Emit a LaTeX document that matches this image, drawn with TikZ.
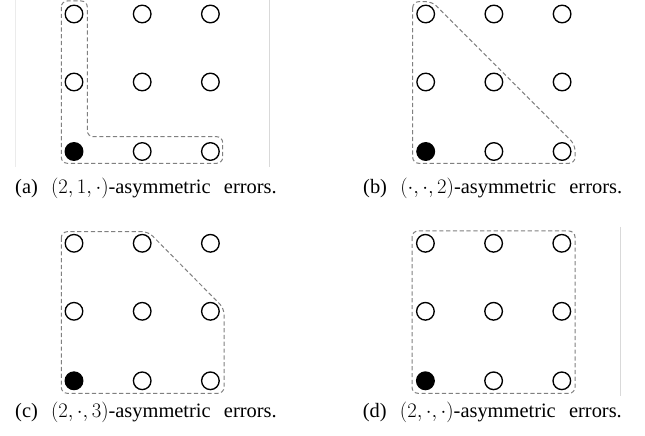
\documentclass[tikz,border=0pt]{standalone}
\usepackage{fontspec}
\setmainfont{Liberation Serif}
\newcommand{\capfont}{\fontsize{20.5}{24}\selectfont\spaceskip 0.65em plus 0.1em\relax}
\begin{document}
\begin{tikzpicture}[x=1bp,y=-1bp,
  pt/.style={circle,draw=black,line width=1.35bp,minimum size=17.6bp,inner sep=0pt,fill=white},
  ptfull/.style={pt,fill=black},
  hull/.style={draw=black!50,dashed,dash pattern=on 4.2bp off 2.6bp,line width=1bp,rounded corners=6bp},
  frameline/.style={draw=black!15,line width=1bp},
  captext/.style={anchor=base west,inner sep=0pt,font=\capfont}]
\useasboundingbox (0,0) rectangle (645,436);
% faint frame edges
\draw[frameline,draw=black!8] (15,0) -- (15,167);
\draw[frameline] (269,0) -- (269,167);
\draw[frameline] (620.7,227) -- (620.7,396);
% grid macro
\newcommand{\dotgrid}[3]{%
  \foreach \c [count=\ci] in {0,68.2,136.4}{%
    \foreach \r [count=\ri] in {0,68,137.5}{%
      \ifnum\ci=1 \ifnum\ri=3
        \node[ptfull] (#1-\ci-\ri) at (#2+\c,#3+\r) {};
      \else
        \node[pt] (#1-\ci-\ri) at (#2+\c,#3+\r) {};
      \fi\else
        \node[pt] (#1-\ci-\ri) at (#2+\c,#3+\r) {};
      \fi
    }}}
% (a)
\draw[hull] (61.3,1) -- (61.3,163.3) -- (222.7,163.3) -- (222.7,136.7) -- (87.3,136.7) -- (87.3,1) -- cycle;
\dotgrid{a}{74}{14}
\node[captext] (capa) at (15,194) {(a) $(2,1,\cdot)$-asymmetric errors.};
% (b)
\draw[hull] (412.7,1.7) -- (412.7,163.3) -- (575,163.3) -- (575,144.6) -- (432.1,1.7) -- cycle;
\dotgrid{b}{425.7}{14}
\node[captext] (capb) at (363,194) {(b) $(\cdot,\cdot,2)$-asymmetric errors.};
% (c)
\draw[hull] (61.3,231.7) -- (61.3,393.3) -- (224,393.3) -- (224,308.3) -- (148.3,231.7) -- cycle;
\dotgrid{c}{74}{243.3}
\node[captext] (capc) at (15,417) {(c) $(2,\cdot,3)$-asymmetric errors.};
% (d)
\draw[hull] (412,231) rectangle (575,393.3);
\dotgrid{d}{425.4}{243.3}
\node[captext] (capd) at (362.7,417) {(d) $(2,\cdot,\cdot)$-asymmetric errors.};
\end{tikzpicture}
\end{document}
